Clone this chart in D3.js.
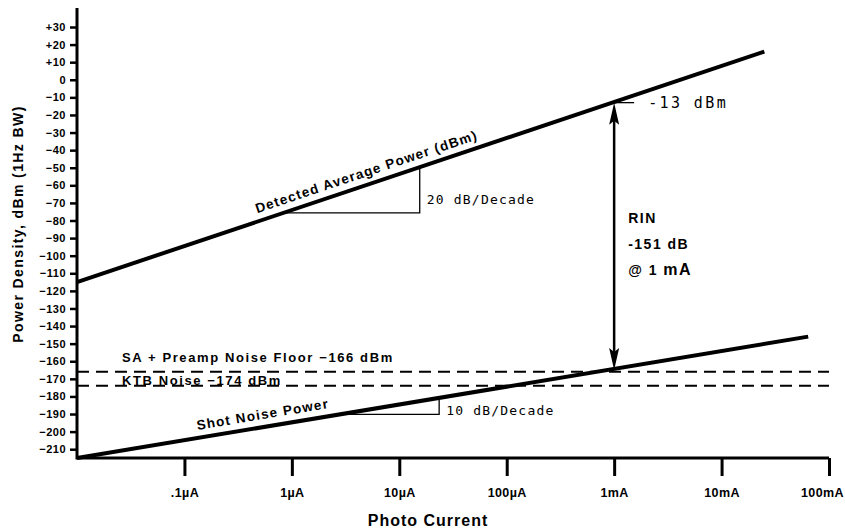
<!DOCTYPE html>
<html>
<head>
<meta charset="utf-8">
<script src="https://cdn.jsdelivr.net/npm/d3@7"></script>
<style>
  body { margin: 0; background: #fff; }
  svg { display: block; }
  .b { font-family: "Liberation Sans", Arial, sans-serif; font-weight: bold; fill: #000; }
  .m { font-family: "DejaVu Sans Mono", monospace; fill: #000; }
</style>
</head>
<body>
<div id="chart"></div>
<script>
// x tick positions (amps) and their labels
const xTickValues = [1e-7, 1e-6, 1e-5, 1e-4, 1e-3, 1e-2, 1e-1];
const xTickLabels = ['.1\u00b5A', '1\u00b5A', '10\u00b5A', '100\u00b5A', '1mA', '10mA', '100mA'];

// y tick values (dBm)
const yTickValues = [30, 20, 10, 0, -10, -20, -30, -40, -50, -60, -70, -80, -90, -100,
  -110, -120, -130, -140, -150, -160, -170, -180, -190, -200, -210];

// lines as [current A, dBm]
const detectedPower = [[1e-8, -115], [2.5e-2, 16]];
const shotNoise = [[1e-8, -215], [6.4e-2, -146]];
const preampFloor = [[1e-8, -166], [1e-1, -166]];
const ktbFloor = [[1e-8, -174], [1e-1, -174]];

// RIN marker at 1 mA
const rinCurrent = 1e-3;
const rinTop = -13;
const rinBottom = -165;

// slope triangles (start / end current)
const detectedSlope = [8.3e-7, 1.55e-5];
const shotSlope = [2.8e-6, 2.35e-5];

const width = 845, height = 529;

const svg = d3.select('#chart').append('svg')
  .attr('width', width)
  .attr('height', height);

const x = d3.scaleLog().domain([1e-8, 1e-1]).range([77, 829]);
const y = d3.scaleLinear().domain([-215, 30]).range([458, 27]);

// value on a straight line (in log-x) at given current
function lineAt(pts, c) {
  const t = (Math.log10(c) - Math.log10(pts[0][0])) / (Math.log10(pts[1][0]) - Math.log10(pts[0][0]));
  return pts[0][1] + t * (pts[1][1] - pts[0][1]);
}

// axes
const yAxis = d3.axisLeft(y)
  .tickValues(yTickValues)
  .tickSize(7)
  .tickPadding(4)
  .tickFormat(d => d > 0 ? '+' + d : d < 0 ? '\u2212' + (-d) : '0');

const gy = svg.append('g')
  .attr('transform', 'translate(' + x(1e-8) + ',0)')
  .call(yAxis);
gy.select('.domain').remove();
gy.selectAll('.tick line').attr('stroke', '#000').attr('stroke-width', 2.5);
gy.selectAll('.tick text')
  .attr('class', 'b')
  .style('font-size', '11px')
  .style('letter-spacing', '0.5px');

const xAxis = d3.axisBottom(x)
  .tickValues(xTickValues)
  .tickSize(18)
  .tickPadding(12)
  .tickFormat((d, i) => xTickLabels[i]);

const gx = svg.append('g')
  .attr('transform', 'translate(0,' + y(-215) + ')')
  .call(xAxis);
gx.select('.domain').remove();
gx.selectAll('.tick line').attr('stroke', '#000').attr('stroke-width', 3);
gx.selectAll('.tick text')
  .attr('class', 'b')
  .style('font-size', '12.5px')
  .style('letter-spacing', '0.4px');
// keep the last label inside the picture
gx.selectAll('.tick text').filter((d, i) => i === xTickValues.length - 1)
  .attr('dx', -7);

// axis frame lines
svg.append('path')
  .attr('d', 'M' + x(1e-8) + ',8 V' + y(-215) + ' H' + x(1e-1))
  .attr('fill', 'none')
  .attr('stroke', '#000')
  .attr('stroke-width', 3);

// axis titles
svg.append('text')
  .attr('class', 'b')
  .attr('x', 428)
  .attr('y', 526)
  .attr('text-anchor', 'middle')
  .style('font-size', '16px')
  .style('letter-spacing', '1px')
  .text('Photo Current');

svg.append('text')
  .attr('class', 'b')
  .attr('transform', 'translate(23,224) rotate(-90)')
  .attr('text-anchor', 'middle')
  .style('font-size', '14px')
  .style('letter-spacing', '1.4px')
  .text('Power Density, dBm (1Hz BW)');

const line = d3.line()
  .x(d => x(d[0]))
  .y(d => y(d[1]));

// noise floors
[preampFloor, ktbFloor].forEach(function (pts) {
  svg.append('path')
    .datum(pts)
    .attr('d', line)
    .attr('fill', 'none')
    .attr('stroke', '#000')
    .attr('stroke-width', 2)
    .attr('stroke-dasharray', '12,7');
});

// main lines
[detectedPower, shotNoise].forEach(function (pts) {
  svg.append('path')
    .datum(pts)
    .attr('d', line)
    .attr('fill', 'none')
    .attr('stroke', '#000')
    .attr('stroke-width', 4);
});

// slope triangles
function slopeTriangle(pts, span, label, dy) {
  const x0 = x(span[0]), x1 = x(span[1]);
  const yb = y(lineAt(pts, span[0]));
  const yt = y(lineAt(pts, span[1]));
  svg.append('path')
    .attr('d', 'M' + x0 + ',' + yb + ' H' + x1 + ' V' + yt)
    .attr('fill', 'none')
    .attr('stroke', '#000')
    .attr('stroke-width', 1.3);
  svg.append('text')
    .attr('class', 'm')
    .attr('x', x1 + 7)
    .attr('y', yb + dy)
    .style('font-size', '13px')
    .style('letter-spacing', '1.2px')
    .text(label);
}
slopeTriangle(detectedPower, detectedSlope, '20 dB/Decade', -9);
slopeTriangle(shotNoise, shotSlope, '10 dB/Decade', 1);

// labels along lines
function lineLabel(pts, c, label, size, spacing) {
  const px = x(c), py = y(lineAt(pts, c));
  const ang = Math.atan2(y(pts[1][1]) - y(pts[0][1]), x(pts[1][0]) - x(pts[0][0])) * 180 / Math.PI;
  svg.append('text')
    .attr('class', 'b')
    .attr('transform', 'translate(' + px + ',' + py + ') rotate(' + ang + ')')
    .attr('y', -8)
    .attr('text-anchor', 'middle')
    .style('font-size', size)
    .style('letter-spacing', spacing)
    .text(label);
}
lineLabel(detectedPower, 5.4e-6, 'Detected Average Power (dBm)', '13.5px', '1.2px');
lineLabel(shotNoise, 5.6e-7, 'Shot Noise Power', '13.5px', '1.2px');

// noise floor labels
svg.append('text')
  .attr('class', 'b')
  .attr('x', 122)
  .attr('y', y(-166) - 10)
  .style('font-size', '13px')
  .style('letter-spacing', '1.6px')
  .text('SA + Preamp Noise Floor \u2212166 dBm');

svg.append('text')
  .attr('class', 'b')
  .attr('x', 122)
  .attr('y', y(-174) - 1)
  .style('font-size', '13px')
  .style('letter-spacing', '1.6px')
  .text('KTB Noise \u2212174 dBm');

// RIN arrow
const ax = x(rinCurrent), ay0 = y(rinTop), ay1 = y(rinBottom);
svg.append('line')
  .attr('x1', ax).attr('x2', ax)
  .attr('y1', ay0 + 10).attr('y2', ay1 - 10)
  .attr('stroke', '#000')
  .attr('stroke-width', 2.5);
svg.append('path')
  .attr('d', 'M' + ax + ',' + ay0 + ' l-5,22 l5,-4 l5,4 Z')
  .attr('fill', '#000');
svg.append('path')
  .attr('d', 'M' + ax + ',' + ay1 + ' l-5,-22 l5,4 l5,-4 Z')
  .attr('fill', '#000');

// -13 dBm marker
svg.append('line')
  .attr('x1', ax).attr('x2', ax + 20)
  .attr('y1', ay0).attr('y2', ay0)
  .attr('stroke', '#000')
  .attr('stroke-width', 1.3);
svg.append('text')
  .attr('class', 'm')
  .attr('x', ax + 34)
  .attr('y', ay0 + 5)
  .style('font-size', '15px')
  .style('letter-spacing', '2.4px')
  .text('-13 dBm');

// RIN text
const rinLines = ['RIN', '-151 dB', '@ 1 '];
const rinText = svg.selectAll('.rin')
  .data(rinLines)
  .join('text')
  .attr('class', 'b rin')
  .attr('x', ax + 14)
  .attr('y', (d, i) => 223 + i * 26)
  .style('font-size', '14px')
  .style('letter-spacing', '1.5px')
  .text(d => d);
rinText.filter((d, i) => i === 2)
  .append('tspan')
  .style('font-size', '16px')
  .text('mA');
</script>
</body>
</html>
